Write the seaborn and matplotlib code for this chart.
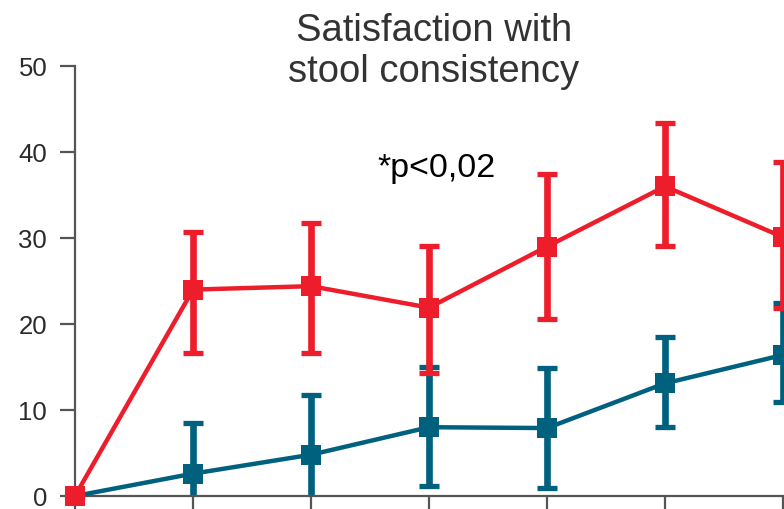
import matplotlib
matplotlib.use("Agg")
import matplotlib.pyplot as plt
import seaborn as sns
import pandas as pd
import numpy as np

# ---- data ----
timepoints = [0, 1, 2, 3, 4, 5, 6]
red_mean  = [0, 24.0, 24.4, 21.9, 29.0, 36.0, 30.1]
red_upper = [0, 30.7, 31.7, 29.1, 37.4, 43.4, 38.8]
red_lower = [0, 16.6, 16.6, 14.3, 20.6, 29.1, 21.9]
blue_mean  = [0, 2.6, 4.8, 8.0, 7.9, 13.1, 16.4]
blue_upper = [0, 8.5, 11.7, 15.0, 14.9, 18.5, 22.4]
blue_lower = [0, -3.3, -2.1, 1.2, 0.9, 8.0, 10.9]
yticks = [0, 10, 20, 30, 40, 50]

RED = "#EE1D2B"
BLUE = "#00617F"

sns.set_style("ticks")
plt.rcParams["font.family"] = ["Liberation Sans", "DejaVu Sans"]

W, H = 784, 509
fig = plt.figure(figsize=(W / 100, H / 100), dpi=100)
ax_left, ax_right = 75 / W, 1.0
ax_bottom, ax_top = (H - 496) / H, (H - 66) / H
ax = fig.add_axes([ax_left, ax_bottom, ax_right - ax_left, ax_top - ax_bottom])

df = pd.DataFrame({
    "time": timepoints * 2,
    "value": blue_mean + red_mean,
    "group": ["blue"] * len(timepoints) + ["red"] * len(timepoints),
})

# error bars (clipped at axes)
for mean, lo, hi, col, z in [(blue_mean, blue_lower, blue_upper, BLUE, 2),
                             (red_mean, red_lower, red_upper, RED, 4)]:
    m = np.array(mean); l = np.array(lo); h = np.array(hi)
    idx = np.arange(1, len(m))
    ax.errorbar(np.array(timepoints)[idx], m[idx],
                yerr=[m[idx] - l[idx], h[idx] - m[idx]],
                fmt="none", ecolor=col, elinewidth=4.8, capsize=7.5,
                capthick=3.8, zorder=z)

sns.lineplot(data=df[df.group == "blue"], x="time", y="value", color=BLUE,
             marker="s", markersize=14.5, markeredgewidth=0, linewidth=3.2,
             ax=ax, zorder=3, clip_on=False, legend=False)
sns.lineplot(data=df[df.group == "red"], x="time", y="value", color=RED,
             marker="s", markersize=14.5, markeredgewidth=0, linewidth=3.2,
             ax=ax, zorder=5, clip_on=False, legend=False)

xmax = 6 * (784 - 75) / (783 - 75)
ax.set_xlim(0, xmax)
ax.set_ylim(0, 50)
ax.set_yticks(yticks)
ax.set_yticklabels([str(v) for v in yticks])
ax.set_xticks(timepoints)
ax.set_xticklabels([])
ax.set_xlabel("")
ax.set_ylabel("")

for s in ["top", "right"]:
    ax.spines[s].set_visible(False)
for s in ["left", "bottom"]:
    ax.spines[s].set_color("#555555")
    ax.spines[s].set_linewidth(1.6)
ax.tick_params(axis="y", length=11, width=1.6, color="#555555",
               labelsize=18.5, labelcolor="#2b2b2b", pad=9)
ax.tick_params(axis="x", length=11, width=1.6, color="#555555")

fig.text(434 / W, 1 - 82 / H, "Satisfaction with\nstool consistency",
         ha="center", va="baseline", fontsize=27.5, color="#333333",
         linespacing=1.18)
fig.text(437 / W, 1 - 177 / H, "*p<0,02", ha="center", va="baseline",
         fontsize=24.5, color="black")

fig.savefig("out.png", dpi=100)
